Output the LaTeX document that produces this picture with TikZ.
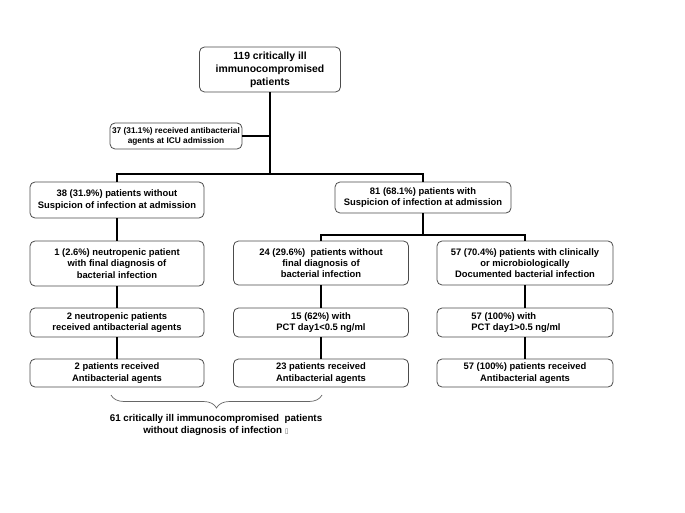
\documentclass[tikz,border=0pt]{standalone}
\usepackage{fontspec}
\setmainfont{Liberation Sans}
\newfontfamily\symfont{DejaVu Sans}
\usetikzlibrary{decorations.pathreplacing}
\tikzset{
  box/.style={draw=black!70, line width=0.8pt, rounded corners=5pt, fill=white,
    align=center, inner sep=1pt, font=\fontsize{9.4}{11.3}\selectfont\bfseries},
  conn/.style={draw=black, line width=1.6pt},
  note/.style={align=center, inner sep=0pt, font=\fontsize{9.8}{12}\selectfont\bfseries}
}
\begin{document}
\begin{tikzpicture}[x=1pt,y=-1pt]
\useasboundingbox (0,0) rectangle (685,513);
% nodes
\node[box, minimum width=141pt, minimum height=45pt, font=\fontsize{10.4}{13}\selectfont\bfseries] (top) at (270,69.5)
  {119 critically ill\\immunocompromised\\patients};
\node[box, minimum width=132pt, minimum height=26pt, font=\fontsize{8.3}{10}\selectfont\bfseries] (adm) at (176,136)
  {37 (31.1\%) received antibacterial\\agents at ICU admission};
\node[box, minimum width=174pt, minimum height=36pt] (L1) at (117,200)
  {38 (31.9\%) patients without\\Suspicion of infection at admission};
\node[box, minimum width=176pt, minimum height=31pt] (R1) at (423,197.5)
  {81 (68.1\%) patients with\\Suspicion of infection at admission};
\node[box, minimum width=174pt, minimum height=45pt] (L2) at (117,263.5)
  {1 (2.6\%) neutropenic patient\\with final diagnosis of\\bacterial infection};
\node[box, minimum width=175pt, minimum height=44pt] (M2) at (321,263)
  {24 (29.6\%)\ \ patients without\\final diagnosis of\\bacterial infection};
\node[box, minimum width=176pt, minimum height=44pt] (Rt2) at (525,263)
  {57 (70.4\%) patients with clinically\\or microbiologically\\Documented bacterial infection};
\node[box, minimum width=174pt, minimum height=29pt] (L3) at (117,322.5)
  {2 neutropenic patients\\received antibacterial agents};
\node[box, minimum width=175pt, minimum height=29pt] (M3) at (321,322.5)
  {15 (62\%) with\\PCT day1<0.5 ng/ml};
\node[box, minimum width=176pt, minimum height=29pt] (Rt3) at (525,322.5) {};
\node[align=left, inner sep=0pt, font=\fontsize{9.4}{11.3}\selectfont\bfseries] (Rt3t) at (516,322.5)
  {57 (100\%) with\\PCT day1>0.5 ng/ml};
\node[box, minimum width=174pt, minimum height=28pt] (L4) at (117,373)
  {2 patients received\\Antibacterial agents};
\node[box, minimum width=175pt, minimum height=28pt] (M4) at (321,373)
  {23 patients received\\Antibacterial agents};
\node[box, minimum width=176pt, minimum height=28pt] (Rt4) at (525,373)
  {57 (100\%) patients received\\Antibacterial agents};
\node[note] (sum) at (216,425)
  {61 critically ill immunocompromised\ \ patients\\without diagnosis of infection {\symfont\fontsize{7}{7}\selectfont\textcolor{black!60}{\char"25AF}}};
% connectors
\coordinate (bar) at (0,174);
\coordinate (bar2) at (0,235);
\draw[conn] (top.south) -- (top.south |- bar);
\draw[conn] (adm.east) -- (adm.east -| top.south);
\draw[conn] (L1.north) -- (L1.north |- bar) -- (R1.north |- bar) -- (R1.north);
\draw[conn] (R1.south) -- (R1.south |- bar2);
\draw[conn] (M2.north) -- (M2.north |- bar2) -- (Rt2.north |- bar2) -- (Rt2.north);
\draw[conn] (L1.south) -- (L2.north);
\draw[conn] (L2.south) -- (L3.north);
\draw[conn] (L3.south) -- (L4.north);
\draw[conn] (M2.south) -- (M3.north);
\draw[conn] (M3.south) -- (M4.north);
\draw[conn] (Rt2.south) -- (Rt3.north);
\draw[conn] (Rt3.south) -- (Rt4.north);
% brace
\coordinate (bl) at (111,395);
\coordinate (br) at (322,395);
\draw[black!60, line width=0.7pt, decorate, decoration={brace, mirror, amplitude=13pt}] (bl) -- (br);
\end{tikzpicture}
\end{document}
